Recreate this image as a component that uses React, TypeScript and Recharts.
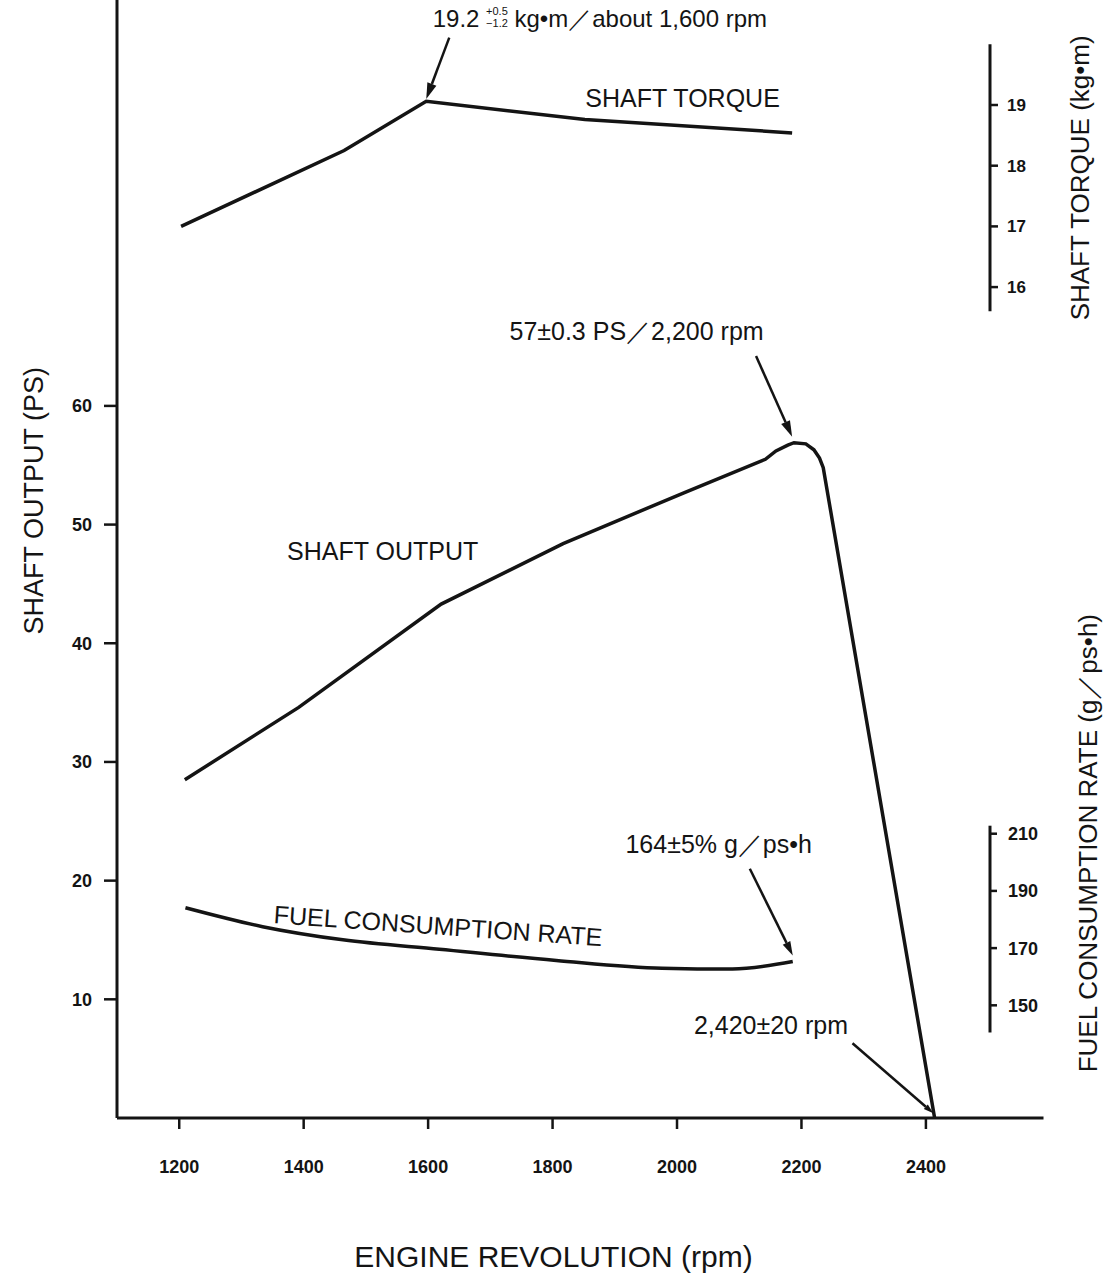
import React from 'react';
import { ComposedChart, Line, XAxis, YAxis, ReferenceLine, ReferenceDot } from 'recharts';

// axis ticks
const rpmTicks = [1200, 1400, 1600, 1800, 2000, 2200, 2400];
const outputTicks = [10, 20, 30, 40, 50, 60];
const torqueTicks = [16, 17, 18, 19];
const fuelTicks = [150, 170, 190, 210];

// shaft torque (kg·m)
const torqueRpm = [1203, 1465, 1597, 1852, 2185];
const torqueKgm = [17.0, 18.25, 19.06, 18.76, 18.54];

// shaft output (PS), rounded top near 2,200 rpm then cut-off line
const outputRpm = [1209, 1392, 1621, 1817, 2012, 2142, 2159, 2178, 2188, 2207, 2220, 2229, 2235, 2414];
const outputPs = [28.5, 34.6, 43.3, 48.4, 52.7, 55.5, 56.2, 56.7, 56.9, 56.8, 56.3, 55.6, 54.8, 0];

// fuel consumption rate (g/ps·h)
const fuelRpm = [1210, 1334, 1463, 1618, 1806, 1976, 2089, 2186];
const fuelRate = [184.1, 177.5, 172.9, 169.6, 165.7, 163.0, 162.7, 165.3];

const torqueData = torqueRpm.map((rpm, i) => ({ rpm, value: torqueKgm[i] }));
const outputData = outputRpm.map((rpm, i) => ({ rpm, value: outputPs[i] }));
const fuelData = fuelRpm.map((rpm, i) => ({ rpm, value: fuelRate[i] }));

const RPM_MAX = 2503;
const RPM_DOMAIN = [1100, RPM_MAX];
const PS_DOMAIN = [0, 94.2];
const TORQUE_DOMAIN = [2.31, 20.73];
const FUEL_DOMAIN = [110.6, 501.5];

const INK = '#141414';
const FONT = "'Liberation Sans', Arial, Helvetica, sans-serif";

// line with a filled arrow head at the (x2, y2) end
const arrow = (head: number) => (p: any) => {
  const { x1, y1, x2, y2 } = p;
  const a = Math.atan2(y2 - y1, x2 - x1);
  const bx = x2 - head * Math.cos(a);
  const by = y2 - head * Math.sin(a);
  const w = head * 0.3;
  const px = -Math.sin(a) * w;
  const py = Math.cos(a) * w;
  return (
    <g>
      <line x1={x1} y1={y1} x2={bx} y2={by} stroke={INK} strokeWidth={2.5} />
      <polygon points={`${x2},${y2} ${bx + px},${by + py} ${bx - px},${by - py}`} fill={INK} />
    </g>
  );
};

const TorquePeakText = (props: any) => {
  const { x, y } = props.viewBox;
  return (
    <text x={x} y={y} textAnchor="middle" dominantBaseline="central" fontSize={24} fill={INK} fontFamily={FONT}>
      <tspan>19.2 </tspan>
      <tspan fontSize={11} dy={-7}>+0.5</tspan>
      <tspan fontSize={11} dx={-21.7} dy={12}>−1.2</tspan>
      <tspan dy={-5}> kg•m／about 1,600 rpm</tspan>
    </text>
  );
};

const note = (key: string, axis: string, x: number, y: number, text: string, size: number, angle = 0) => (
  <ReferenceDot
    key={key}
    yAxisId={axis}
    x={x}
    y={y}
    r={0}
    fill="none"
    stroke="none"
    ifOverflow="visible"
    label={{ value: text, position: 'center', fontSize: size, fill: INK, angle }}
  />
);

const axisLine = { stroke: INK, strokeWidth: 3 };
const tickLine = { stroke: INK, strokeWidth: 2.5 };

export default function App() {
  return (
    <div style={{ position: 'absolute', left: 0, top: 0, width: 1110, height: 1277, background: '#fff', fontFamily: FONT }}>
      <ComposedChart width={1110} height={1277} margin={{ top: 0, right: 0, bottom: 0, left: 0 }}>
        <XAxis
          type="number"
          dataKey="rpm"
          domain={RPM_DOMAIN}
          ticks={rpmTicks}
          interval={0}
          allowDataOverflow
          height={159}
          axisLine={axisLine}
          tickLine={tickLine}
          tickSize={11}
          tickMargin={31}
          tick={{ fill: INK, fontSize: 18, fontWeight: 700 }}
          label={{ value: 'ENGINE REVOLUTION (rpm)', position: 'insideBottom', offset: 10, fontSize: 30, fill: INK }}
        />
        <YAxis
          yAxisId="ps"
          type="number"
          domain={PS_DOMAIN}
          ticks={outputTicks}
          interval={0}
          allowDataOverflow
          width={117}
          axisLine={axisLine}
          tickLine={tickLine}
          tickSize={13}
          tickMargin={12}
          tick={{ fill: INK, fontSize: 18, fontWeight: 700 }}
        />
        {/* both short scales sit on the same vertical: the first right axis gets a 1px slot */}
        <YAxis
          yAxisId="fuel"
          orientation="right"
          type="number"
          domain={FUEL_DOMAIN}
          ticks={fuelTicks}
          interval={0}
          allowDataOverflow
          width={1}
          axisLine={false}
          tickLine={tickLine}
          tickSize={7}
          tickMargin={11}
          tick={{ fill: INK, fontSize: 18, fontWeight: 700 }}
        />
        <YAxis
          yAxisId="torque"
          orientation="right"
          type="number"
          domain={TORQUE_DOMAIN}
          ticks={torqueTicks}
          interval={0}
          allowDataOverflow
          width={119}
          axisLine={false}
          tickLine={tickLine}
          tickSize={7}
          tickMargin={9}
          tick={{ fill: INK, fontSize: 17, fontWeight: 700 }}
        />

        {/* short right-hand scales and the x axis running past the last tick */}
        <ReferenceLine yAxisId="torque" segment={[{ x: RPM_MAX, y: 15.6 }, { x: RPM_MAX, y: 20.0 }]} stroke={INK} strokeWidth={3} ifOverflow="visible" />
        <ReferenceLine yAxisId="fuel" segment={[{ x: RPM_MAX, y: 140.5 }, { x: RPM_MAX, y: 212.8 }]} stroke={INK} strokeWidth={3} ifOverflow="visible" />
        <ReferenceLine yAxisId="ps" segment={[{ x: RPM_MAX, y: 0 }, { x: 2589, y: 0 }]} stroke={INK} strokeWidth={3} ifOverflow="visible" />

        <Line yAxisId="torque" data={torqueData} dataKey="value" type="linear" stroke={INK} strokeWidth={3.5} dot={false} activeDot={false} isAnimationActive={false} />
        <Line yAxisId="ps" data={outputData} dataKey="value" type="linear" stroke={INK} strokeWidth={3.5} dot={false} activeDot={false} isAnimationActive={false} />
        <Line yAxisId="fuel" data={fuelData} dataKey="value" type="monotone" stroke={INK} strokeWidth={3.5} dot={false} activeDot={false} isAnimationActive={false} />

        {/* callout arrows */}
        <ReferenceLine yAxisId="torque" segment={[{ x: 1634, y: 20.11 }, { x: 1597, y: 19.1 }]} ifOverflow="visible" shape={arrow(16)} />
        <ReferenceLine yAxisId="ps" segment={[{ x: 2127, y: 64.2 }, { x: 2185, y: 57.4 }]} ifOverflow="visible" shape={arrow(16)} />
        <ReferenceLine yAxisId="ps" segment={[{ x: 2117, y: 21.0 }, { x: 2186, y: 13.7 }]} ifOverflow="visible" shape={arrow(14)} />
        <ReferenceLine yAxisId="ps" segment={[{ x: 2282, y: 6.3 }, { x: 2412, y: 0.4 }]} ifOverflow="visible" shape={arrow(10)} />

        <ReferenceDot yAxisId="ps" x={1876} y={92.7} r={0} fill="none" stroke="none" ifOverflow="visible" label={{ content: TorquePeakText }} />
        {note('peak', 'ps', 1935, 66.3, '57±0.3 PS／2,200 rpm', 25)}
        {note('fuelmin', 'ps', 2067, 23.1, '164±5% g／ps•h', 25)}
        {note('cutoff', 'ps', 2151, 7.84, '2,420±20 rpm', 25)}

        {note('torqueName', 'torque', 2009, 19.12, 'SHAFT TORQUE', 25)}
        {note('outputName', 'ps', 1527, 47.8, 'SHAFT OUTPUT', 25)}
        {note('fuelName', 'ps', 1616, 16.2, 'FUEL CONSUMPTION RATE', 25, 4)}

        {note('psTitle', 'ps', 966, 52.0, 'SHAFT OUTPUT (PS)', 27, -90)}
        {note('torqueTitle', 'torque', 2648, 17.8, 'SHAFT TORQUE (kg•m)', 26, -90)}
        {note('fuelTitle', 'fuel', 2660, 206.7, 'FUEL CONSUMPTION RATE (g／ps•h)', 26, -90)}
      </ComposedChart>
    </div>
  );
}
